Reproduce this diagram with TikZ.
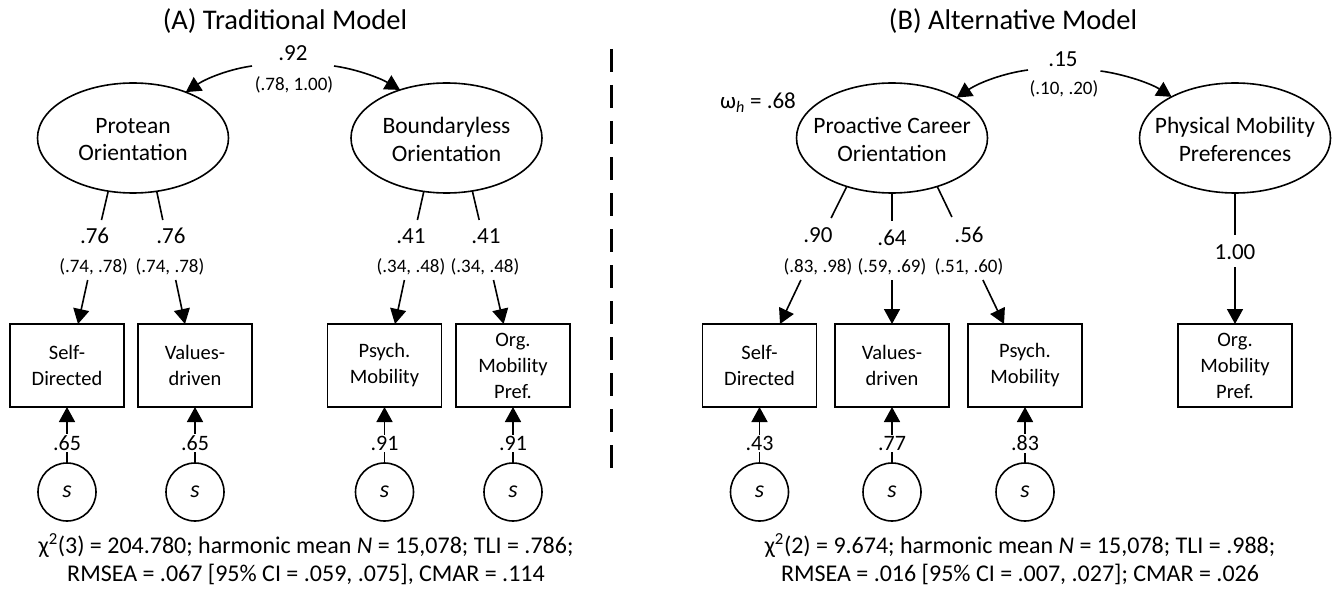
\documentclass[tikz,border=0pt]{standalone}
\usepackage{fontspec}
\setmainfont{Carlito}
\usetikzlibrary{arrows.meta,calc,shapes.geometric}
\begin{document}
\begin{tikzpicture}[x=1bp,y=-1bp,
  every node/.style={inner sep=0pt, outer sep=0pt, text=black},
  lat/.style={ellipse, draw, line width=1.6bp, minimum width=191bp, minimum height=110bp},
  lattext/.style={align=center, font=\fontsize{23.5bp}{27.5bp}\selectfont},
  obs/.style={rectangle, draw, line width=1.6bp, minimum width=114bp, minimum height=83bp, align=center, font=\fontsize{20.5bp}{26bp}\selectfont},
  err/.style={circle, draw, line width=1.6bp, minimum size=58bp, font=\fontsize{24bp}{24bp}\selectfont\itshape},
  ld/.style={font=\fontsize{23bp}{23bp}\selectfont},
  ci/.style={font=\fontsize{19bp}{19bp}\selectfont},
  ttl/.style={font=\fontsize{28.5bp}{30bp}\selectfont},
  fitstat/.style={align=center, font=\fontsize{24bp}{28.5bp}\selectfont},
  lnk/.style={line width=1.6bp},
  arr/.style={line width=1.6bp, -{Triangle[length=15bp,width=16bp]}},
  elab/.style={fill=white, inner sep=1.5bp, font=\fontsize{22bp}{22bp}\selectfont},
  sep/.style={line width=3bp, dash pattern=on 23bp off 13bp},
]
\fill[white] (0,0) rectangle (1336,590);
\useasboundingbox (0,0) rectangle (1336,590);

% ---------------- Panel A ----------------
\node[ttl] (titA) at (285,21.5) {(A) Traditional Model};
\node[ld] (covA) at (293,53) {.92};
\node[ci] (covAci) at (294,85) {(.78, 1.00)};

\node[lat] (pro) at (133,138) {};
\node[lattext] (proT) at (133,139.5) {Protean\\Orientation};
\node[lat] (bnd) at (446.5,138) {};
\node[lattext] (bndT) at (446.5,139.5) {Boundaryless\\Orientation};

\coordinate (cAl) at (252,66);
\coordinate (cAr) at (334,66);
\draw[arr] (cAl) .. controls (230,69) and (207,78) .. (pro.41);
\draw[arr] (cAr) .. controls (356,69) and (380,78) .. (bnd.134);

\node[obs] (sdA) at (67,365.5) {Self-\\Directed};
\node[obs] (vdA) at (195,365.5) {Values-\\driven};
\node[obs] (pmA) at (384.5,365.5) {Psych.\\Mobility};
\node[obs] (omA) at (513,365.5) {Org.\\Mobility\\Pref.};

\coordinate (a1) at (101.5,220); \coordinate (b1) at (87.7,280);
\coordinate (a2) at (162.8,220); \coordinate (b2) at (175.7,280);
\coordinate (a3) at (417.4,220); \coordinate (b3) at (404.4,280);
\coordinate (a4) at (479.2,220); \coordinate (b4) at (493.5,280);
\draw[lnk] (pro.245) -- (a1); \draw[arr] (b1) -- ($(sdA.north)+(11,0)$);
\draw[lnk] (pro.294) -- (a2); \draw[arr] (b2) -- ($(vdA.north)+(-10,0)$);
\draw[lnk] (bnd.247) -- (a3); \draw[arr] (b3) -- ($(pmA.north)+(10.5,0)$);
\draw[lnk] (bnd.296) -- (a4); \draw[arr] (b4) -- ($(omA.north)+(-9.4,0)$);

\node[ld] (l1) at (94.6,236) {.76};   \node[ci] (c1) at (93.6,267) {(.74, .78)};
\node[ld] (l2) at (171,236) {.76};    \node[ci] (c2) at (170,267) {(.74, .78)};
\node[ld] (l3) at (411,236) {.41};    \node[ci] (c3) at (411,267) {(.34, .48)};
\node[ld] (l4) at (486,236) {.41};    \node[ci] (c4) at (485,267) {(.34, .48)};

\node[err] (e1) at (67,492) {s};
\node[err] (e2) at (195,492) {s};
\node[err] (e3) at (384.5,492) {s};
\node[err] (e4) at (513,492) {s};
\draw[arr] (e1) -- node[elab, pos=0.35] {.65} (sdA);
\draw[arr] (e2) -- node[elab, pos=0.35] {.65} (vdA);
\draw[arr] (e3) -- node[elab, pos=0.35] {.91} (pmA);
\draw[arr] (e4) -- node[elab, pos=0.35] {.91} (omA);

\node[fitstat] (fitA) at (306,559) {χ\textsuperscript{2}(3) = 204.780; harmonic mean \textit{N} = 15,078; TLI = .786;\\RMSEA = .067 [95\% CI = .059, .075], CMAR = .114};

% separator
\coordinate (sepT) at (611,49);
\coordinate (sepB) at (611,468);
\draw[sep] (sepT) -- (sepB);

% ---------------- Panel B ----------------
\node[ttl] (titB) at (1013,21.5) {(B) Alternative Model};
\node[ld] (covB) at (1063,59) {.15};
\node[ci] (covBci) at (1064,89) {(.10, .20)};
\node[ld] (omega) at (758,103) {ω\textsubscript{\textit{h}} = .68};

\node[lat] (pco) at (892,138) {};
\node[lattext] (pcoT) at (892,139.5) {Proactive Career\\Orientation};
\node[lat] (pmp) at (1235,138) {};
\node[lattext] (pmpT) at (1235,139.5) {Physical Mobility\\Preferences};

\coordinate (cBl) at (1028,70);
\coordinate (cBr) at (1100.5,71);
\draw[arr] (cBl) .. controls (1005,73) and (980,82) .. (pco.32);
\draw[arr] (cBr) .. controls (1123,74) and (1150,83) .. (pmp.147);

\node[obs] (sdB) at (759.5,365.5) {Self-\\Directed};
\node[obs] (vdB) at (892,365.5) {Values-\\driven};
\node[obs] (pmB) at (1025,365.5) {Psych.\\Mobility};
\node[obs] (omB) at (1235,365.5) {Org.\\Mobility\\Pref.};

\coordinate (a5) at (831.1,218); \coordinate (b5) at (800.9,280);
\coordinate (a6) at (892,221);   \coordinate (b6) at (892,280);
\coordinate (a7) at (951.9,217); \coordinate (b7) at (982.9,280);
\coordinate (a8) at (1235,235);  \coordinate (b8) at (1235,267);
\draw[lnk] (pco.227) -- (a5); \draw[arr] (b5) -- ($(sdB.north)+(20.5,0)$);
\draw[lnk] (pco.south) -- (a6); \draw[arr] (b6) -- (vdB.north);
\draw[lnk] (pco.313) -- (a7); \draw[arr] (b7) -- ($(pmB.north)+(-21,0)$);
\draw[lnk] (pmp.south) -- (a8); \draw[arr] (b8) -- (omB.north);

\node[ld] (l5) at (818,235) {.90};   \node[ci] (c5) at (818,267) {(.83, .98)};
\node[ld] (l6) at (892,238) {.64};   \node[ci] (c6) at (892,267) {(.59, .69)};
\node[ld] (l7) at (969,235) {.56};   \node[ci] (c7) at (969,267) {(.51, .60)};
\node[ld] (l8) at (1235,252) {1.00};

\node[err] (e5) at (759.5,492) {s};
\node[err] (e6) at (892,492) {s};
\node[err] (e7) at (1025,492) {s};
\draw[arr] (e5) -- node[elab, pos=0.35] {.43} (sdB);
\draw[arr] (e6) -- node[elab, pos=0.35] {.77} (vdB);
\draw[arr] (e7) -- node[elab, pos=0.35] {.83} (pmB);

\node[fitstat] (fitB) at (1020,559) {χ\textsuperscript{2}(2) = 9.674; harmonic mean \textit{N} = 15,078; TLI = .988;\\RMSEA = .016 [95\% CI = .007, .027]; CMAR = .026};
\end{tikzpicture}
\end{document}
